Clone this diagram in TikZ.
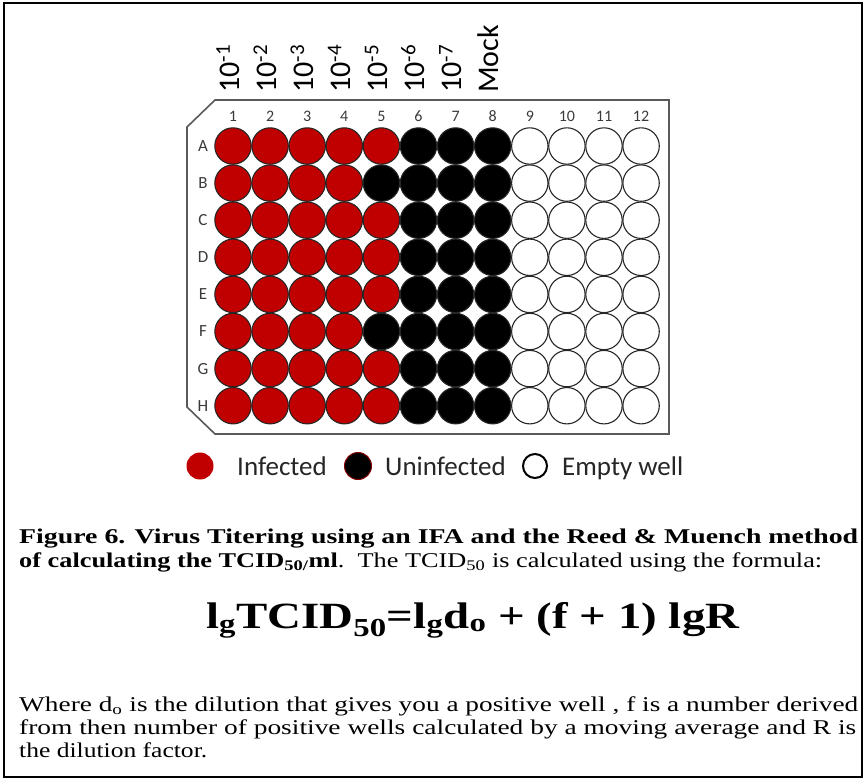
\documentclass[tikz,border=0pt]{standalone}
\usepackage{graphicx}
\usepackage{fontspec}
\setmainfont{Liberation Serif}
\newfontfamily\calibfont{Carlito}
\definecolor{wellred}{HTML}{C00000}
\definecolor{welledge}{HTML}{262626}
\definecolor{platecol}{HTML}{595959}
\definecolor{labcol}{HTML}{3A3A3A}
\begin{document}
\begin{tikzpicture}[x=1pt,y=-1pt,
  well/.style={circle,draw=welledge,line width=1.1pt,minimum size=36.4pt,inner sep=0pt},
  plateline/.style={draw=platecol,line width=1.6pt},
  colnum/.style={font=\calibfont\fontsize{16}{18}\selectfont,text=labcol,inner sep=0pt},
  rowlab/.style={font=\calibfont\fontsize{17}{19}\selectfont,text=labcol,inner sep=0pt},
  dillab/.style={font=\calibfont\fontsize{30}{32}\selectfont,rotate=90,anchor=base west,inner sep=0pt},
  legtext/.style={font=\calibfont\fontsize{27}{30}\selectfont,text=black!85,anchor=base west,inner sep=0pt},
  captext/.style={anchor=base west,inner sep=0pt}]
\useasboundingbox (0,0) rectangle (865,780);
\draw[line width=2pt] (4,3) rectangle (862,777);
% plate outline
\coordinate (p1) at (215,100);
\coordinate (p2) at (669,100);
\coordinate (p3) at (669,434);
\coordinate (p4) at (215,434);
\coordinate (p5) at (187,407);
\coordinate (p6) at (187,127);
\draw[plateline] (p1) -- (p2) -- (p3) -- (p4) -- (p5) -- (p6) -- cycle;
% wells
\foreach \c in {1,...,12}{
  \foreach \r [count=\ri] in {A,B,C,D,E,F,G,H}{
    \pgfmathsetmacro\wx{233+(\c-1)*37.1}
    \pgfmathsetmacro\wy{146+(\ri-1)*37.1}
    \def\wf{white}
    \ifnum\c<6\relax \def\wf{wellred}\fi
    \ifnum\c=5\relax
      \ifnum\ri=2\relax \def\wf{black}\fi
      \ifnum\ri=6\relax \def\wf{black}\fi
    \fi
    \ifnum\c>5\relax \ifnum\c<9\relax \def\wf{black}\fi\fi
    \node[well,fill=\wf] (w\r\c) at (\wx,\wy) {};
  }
  \pgfmathsetmacro\nx{233+(\c-1)*37.1}
  \node[colnum] (n\c) at (\nx,116) {\c};
}
\foreach \r [count=\ri] in {A,B,C,D,E,F,G,H}{
  \pgfmathsetmacro\ly{146+(\ri-1)*37.1}
  \node[rowlab] (l\r) at (203,\ly) {\r};
}
% dilution labels
\foreach \c/\t in {1/{10\textsuperscript{-1}},2/{10\textsuperscript{-2}},3/{10\textsuperscript{-3}},4/{10\textsuperscript{-4}},5/{10\textsuperscript{-5}},6/{10\textsuperscript{-6}},7/{10\textsuperscript{-7}},8/{Mock}}{
  \pgfmathsetmacro\dx{239+(\c-1)*37.1}
  \node[dillab] (d\c) at (\dx,93) {\t};
}
% legend
\node[circle,fill=wellred,minimum size=27pt,inner sep=0pt] (lgi) at (200,466) {};
\node[legtext] (lti) at (237,475) {Infected};
\node[circle,fill=black,draw=wellred!70!black,line width=1pt,minimum size=27pt,inner sep=0pt] (lgu) at (358,466) {};
\node[legtext] (ltu) at (385,475) {Uninfected};
\node[circle,draw=black,line width=2pt,minimum size=24pt,inner sep=0pt] (lge) at (535,466) {};
\node[legtext] (lte) at (562,475) {Empty well};
% caption
\node[captext] (cap1) at (19,543) {\resizebox{839pt}{\height}{\fontsize{21}{25}\selectfont\bfseries Figure 6. Virus Titering using an IFA and the Reed \& Muench method}};
\node[captext] (cap2) at (19,567) {\resizebox{803pt}{\height}{\fontsize{21}{25}\selectfont{\bfseries of calculating the TCID\textsubscript{50/}ml}.\ \ The TCID\textsubscript{50} is calculated using the formula:}};
\node[captext] (form) at (206,628) {\resizebox{533pt}{\height}{\fontsize{37}{43}\selectfont\bfseries l\textsubscript{g}TCID\textsubscript{50}=l\textsubscript{g}d\textsubscript{o} + (f + 1) lgR}};
\node[captext] (par1) at (19,711) {\resizebox{839pt}{\height}{\fontsize{21}{25}\selectfont Where d\textsubscript{o} is the dilution that gives you a positive well , f is a number derived}};
\node[captext] (par2) at (19,734) {\resizebox{837pt}{\height}{\fontsize{21}{25}\selectfont from then number of positive wells calculated by a moving average and R is}};
\node[captext] (par3) at (19,757) {\resizebox{188pt}{\height}{\fontsize{21}{25}\selectfont the dilution factor.}};
\end{tikzpicture}
\end{document}
